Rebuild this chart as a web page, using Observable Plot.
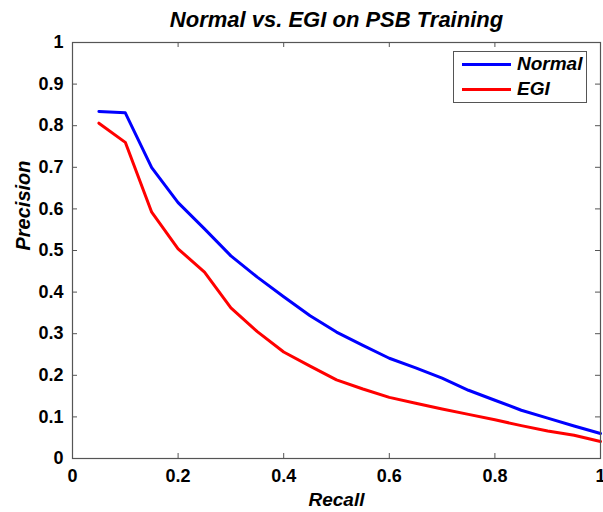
<!DOCTYPE html>
<html><head><meta charset="utf-8">
<script src="https://cdn.jsdelivr.net/npm/d3@7"></script>
<script src="https://cdn.jsdelivr.net/npm/@observablehq/plot@0.6"></script>
<style>
body{margin:0;background:#fff;font-family:Arial,"Liberation Sans",sans-serif;}
#wrap{position:relative;width:603px;height:512px;}
#legend{position:absolute;left:453px;top:51px;width:134px;height:52px;border:1px solid #555;background:#fff;box-sizing:border-box;}
#legend .row{position:absolute;left:8px;height:20px;display:flex;align-items:center;}
#legend .sw{width:49px;height:3px;margin-right:6px;}
#legend .lb{font-weight:bold;font-style:italic;font-size:19px;color:#000;line-height:20px;}
</style></head>
<body><div id="wrap"></div>
<script>
const recall = [0.05,0.1,0.15,0.2,0.25,0.3,0.35,0.4,0.45,0.5,0.55,0.6,0.65,0.7,0.75,0.8,0.85,0.9,0.95,1.0];
const normal = [0.834,0.831,0.699,0.615,0.552,0.487,0.436,0.389,0.343,0.304,0.272,0.241,0.218,0.193,0.164,0.140,0.116,0.097,0.078,0.060];
const egi    = [0.806,0.760,0.592,0.504,0.448,0.362,0.305,0.256,0.222,0.189,0.167,0.147,0.133,0.119,0.106,0.093,0.079,0.066,0.056,0.041];
const seriesNames = ["Normal","EGI"];
const seriesColors = ["#0000ff","#ff0000"];
const xTicks = [0,0.2,0.4,0.6,0.8,1];
const yTicks = [0,0.1,0.2,0.3,0.4,0.5,0.6,0.7,0.8,0.9,1];
const title = "Normal vs. EGI on PSB Training";
const xLabel = "Recall";
const yLabel = "Precision";

const rows = [];
recall.forEach((r,i)=>{rows.push({s:"Normal",r,p:normal[i]});rows.push({s:"EGI",r,p:egi[i]});});
const fmt = d => String(+d.toFixed(1));

const plot = Plot.plot({
  width:603, height:512,
  marginLeft:72, marginRight:3, marginTop:42, marginBottom:54,
  style:{fontFamily:"Arial, 'Liberation Sans', sans-serif", fontSize:"18px", fontWeight:"bold", color:"#000", background:"#fff", overflow:"visible"},
  x:{domain:[0,1]},
  y:{domain:[0,1]},
  color:{domain:seriesNames, range:seriesColors},
  marks:[
    Plot.axisX({anchor:"bottom", ticks:xTicks, tickSize:-5, tickFormat:fmt, tickPadding:16, stroke:"#555", fill:"#000", label:null, fontSize:18, fontWeight:"bold"}),
    Plot.tickX(xTicks, {x:d=>d, stroke:"#555", insetBottom:411}),
    Plot.axisY({anchor:"left", ticks:yTicks, tickSize:-5, tickFormat:fmt, tickPadding:14, stroke:"#555", fill:"#000", label:null, fontSize:18, fontWeight:"bold"}),
    Plot.tickY(yTicks, {y:d=>d, stroke:"#555", insetLeft:523}),
    Plot.line(rows,{x:"r", y:"p", z:"s", stroke:"s", strokeWidth:3}),
    Plot.frame({stroke:"#555", strokeWidth:1.2}),
    Plot.text([title],{frameAnchor:"top", dy:-23, lineAnchor:"middle", fontSize:22, fontWeight:"bold", fontStyle:"italic", fill:"#000"}),
    Plot.text([xLabel],{frameAnchor:"bottom", dy:41, lineAnchor:"middle", fontSize:19, fontWeight:"bold", fontStyle:"italic", fill:"#000"}),
    Plot.text([yLabel],{frameAnchor:"left", dx:-49, rotate:-90, lineAnchor:"middle", fontSize:20, fontWeight:"bold", fontStyle:"italic", fill:"#000"})
  ]
});
const wrap = document.getElementById("wrap");
wrap.appendChild(plot);
const leg = document.createElement("div");
leg.id = "legend";
seriesNames.forEach((n,i)=>{
  const row = document.createElement("div");
  row.className="row"; row.style.top = (2+i*25)+"px";
  row.innerHTML = `<div class="sw" style="background:${seriesColors[i]}"></div><span class="lb">${n}</span>`;
  leg.appendChild(row);
});
wrap.appendChild(leg);
</script></body></html>
